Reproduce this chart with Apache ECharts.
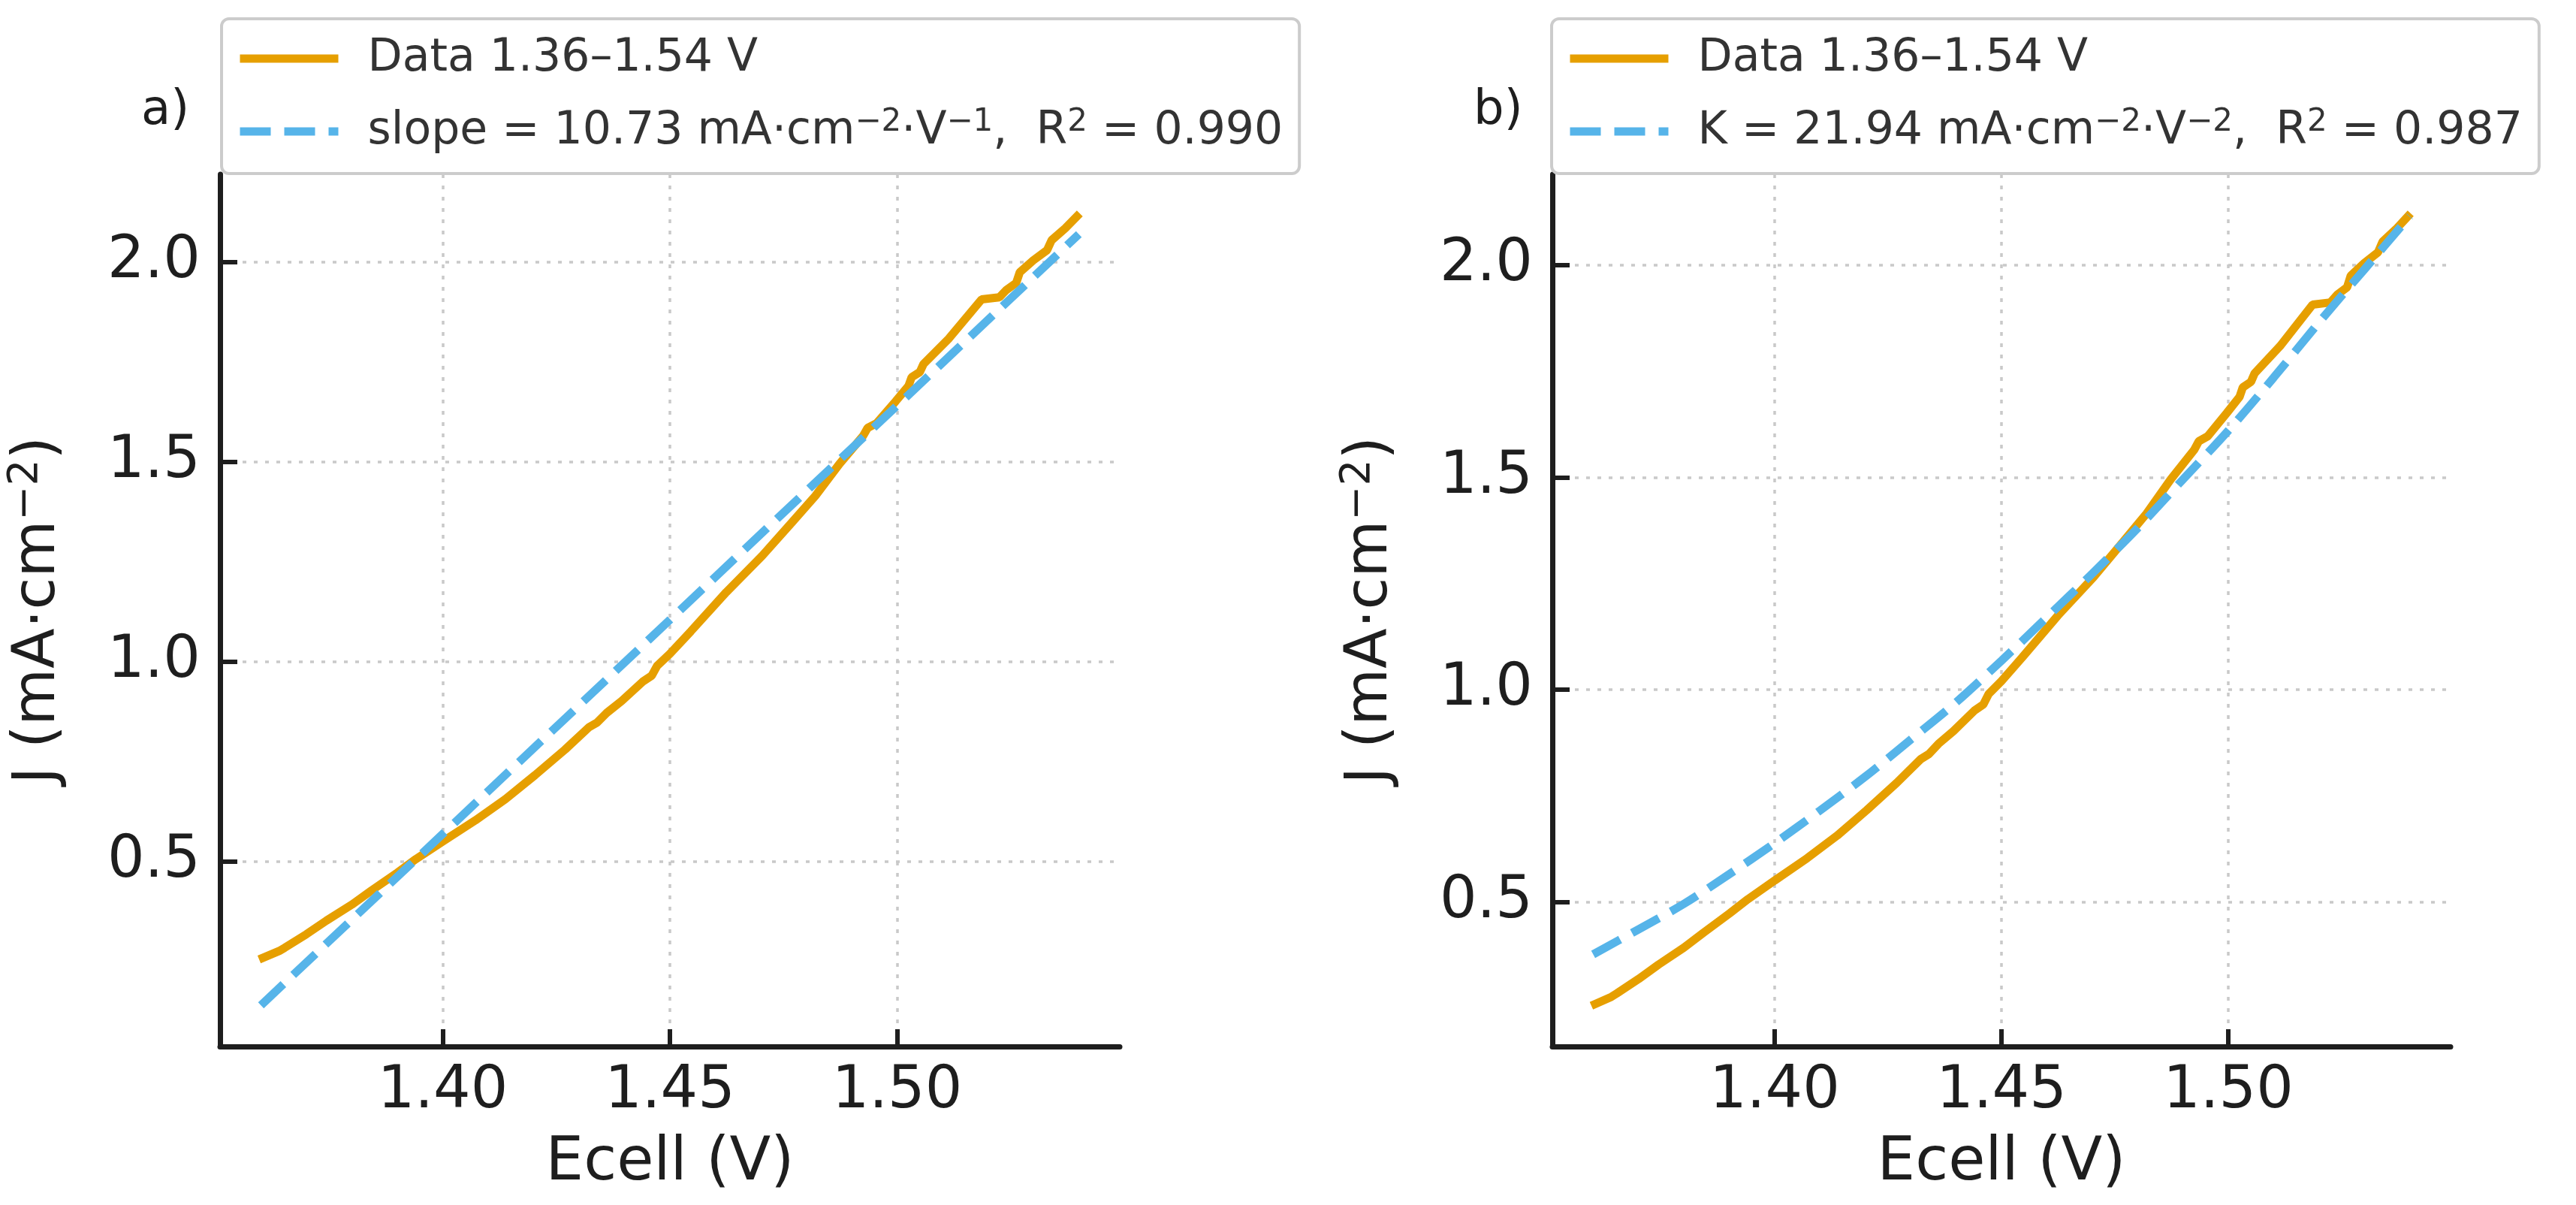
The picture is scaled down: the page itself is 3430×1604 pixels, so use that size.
<!DOCTYPE html>
<html>
<head>
<meta charset="utf-8">
<script src="https://cdn.jsdelivr.net/npm/echarts@6/dist/echarts.min.js"></script>
<style>
html,body{margin:0;padding:0;background:#ffffff;}
#chart{width:3430px;height:1604px;}
</style>
</head>
<body>
<div id="chart"></div>
<script>
// ---- data ----
const measuredE = [1.3596,1.3640,1.3652,1.3700,1.3744,1.3800,1.3843,1.3900,1.3941,1.4000,1.4072,1.4138,1.4203,1.4269,1.4322,1.4340,1.4361,1.4394,1.4440,1.4460,1.4472,1.4500,1.4546,1.4624,1.4703,1.4768,1.4820,1.4873,1.4925,1.4935,1.4955,1.4997,1.5025,1.5032,1.5050,1.5058,1.5114,1.5186,1.5225,1.5240,1.5262,1.5270,1.5300,1.5330,1.5340,1.5370,1.5402];
const measuredJ = [0.255,0.276,0.284,0.318,0.352,0.392,0.427,0.472,0.506,0.550,0.603,0.656,0.716,0.780,0.836,0.848,0.872,0.902,0.950,0.965,0.990,1.020,1.076,1.174,1.265,1.348,1.415,1.495,1.565,1.585,1.597,1.652,1.690,1.712,1.725,1.745,1.809,1.907,1.912,1.930,1.948,1.975,2.005,2.030,2.055,2.085,2.122];

const linearFitE = [1.36, 1.54];
const linearFitJ = [0.140, 2.070];

const quadFitE = [1.36,1.37,1.38,1.39,1.40,1.41,1.42,1.43,1.44,1.45,1.46,1.47,1.48,1.49,1.50,1.51,1.52,1.53,1.54];
const quadFitJ = [0.376,0.435,0.495,0.565,0.638,0.715,0.795,0.882,0.970,1.068,1.170,1.273,1.380,1.495,1.610,1.735,1.865,1.990,2.115];

const xTickValues = [1.40, 1.45, 1.50];
const yTickValues = [0.5, 1.0, 1.5, 2.0];

const dataName = 'Data 1.36\u20131.54 V';
const linearName = 'slope = 10.73 mA\u00b7cm\u207b\u00b2\u00b7V\u207b\u00b9,  R\u00b2 = 0.990';
const quadName = 'K = 21.94 mA\u00b7cm\u207b\u00b2\u00b7V\u207b\u00b2,  R\u00b2 = 0.987';
const panelLabels = ['a)', 'b)'];
const xAxisTitle = 'Ecell (V)';
const yAxisTitle = 'J (mA\u00b7cm\u207b\u00b2)';

// ---- build ----
const zip = (xs, ys) => xs.map((x, i) => [x, ys[i]]);
const FONT = 'DejaVu Sans';
const ORANGE = '#E69F00';
const BLUE = '#56B4E9';
const AXIS = '#1e1e1e';
const GRIDC = '#c9c9c9';
const LEG_TXT = '#333333';

// turn unicode superscripts into rich-text superscript tokens (like mathtext)
function toRich(text, mainKey, firstKey) {
  const parts = text.split(/(\u207b\u00b2|\u207b\u00b9|\u00b2)/);
  let out = '';
  let first = true;
  parts.forEach(p => {
    if (!p) return;
    if (p === '\u207b\u00b2') out += '{s|\u22122}';
    else if (p === '\u207b\u00b9') out += '{s|\u22121}';
    else if (p === '\u00b2') out += '{s|2}';
    else { out += '{' + (first && firstKey ? firstKey : mainKey) + '|' + p + '}'; }
    first = false;
  });
  return out;
}

function xAxisCfg(idx) {
  return {
    type: 'value', gridIndex: idx, min: 1.351, max: 1.549,
    name: xAxisTitle, nameLocation: 'middle', nameGap: 116,
    nameTextStyle: {fontFamily: FONT, fontSize: 80, color: AXIS},
    axisLine: {show: true, onZero: false, lineStyle: {color: AXIS, width: 7}},
    axisTick: {show: true, inside: true, length: 23, lineStyle: {color: AXIS, width: 6}, customValues: xTickValues},
    axisLabel: {show: true, margin: 22, fontFamily: FONT, fontSize: 78, color: AXIS,
      customValues: xTickValues, formatter: v => Number(v).toFixed(2)},
    splitLine: {show: true, lineStyle: {color: GRIDC, width: 3.5, type: [5, 10]}}
  };
}
function yAxisCfg(idx, min, max) {
  return {
    type: 'value', gridIndex: idx, min: min, max: max,
    name: toRich(yAxisTitle, 't'), nameLocation: 'middle', nameGap: 196, nameRotate: 90,
    nameTextStyle: {fontFamily: FONT, fontSize: 78, color: AXIS,
      rich: {
        t: {fontFamily: FONT, fontSize: 78, color: AXIS, lineHeight: 90},
        s: {fontFamily: FONT, fontSize: 55, color: AXIS, lineHeight: 55, verticalAlign: 'top'}
      }},
    axisLine: {show: true, onZero: false, lineStyle: {color: AXIS, width: 7}},
    axisTick: {show: true, inside: true, length: 23, lineStyle: {color: AXIS, width: 6}, customValues: yTickValues},
    axisLabel: {show: true, margin: 26, fontFamily: FONT, fontSize: 78, color: AXIS,
      customValues: yTickValues, formatter: v => Number(v).toFixed(1)},
    splitLine: {show: true, lineStyle: {color: GRIDC, width: 3.5, type: [5, 10]}}
  };
}
function legendCfg(left, names) {
  return {
    orient: 'vertical', left: left, top: 25,
    data: names,
    itemWidth: 131, itemHeight: 24, itemGap: 34,
    padding: [23, 22, 26, 19],
    backgroundColor: '#ffffff', borderColor: '#cccccc', borderWidth: 4, borderRadius: 10,
    formatter: name => toRich(name, 't', 'f'),
    textStyle: {fontFamily: FONT, fontSize: 60, color: LEG_TXT,
      rich: {
        f: {fontFamily: FONT, fontSize: 60, color: LEG_TXT, lineHeight: 66, padding: [0, 0, 0, 34]},
        t: {fontFamily: FONT, fontSize: 60, color: LEG_TXT, lineHeight: 66},
        s: {fontFamily: FONT, fontSize: 42, color: LEG_TXT, lineHeight: 42, verticalAlign: 'top'}
      }},
    itemStyle: {color: 'rgba(0,0,0,0)', borderColor: 'rgba(0,0,0,0)', borderWidth: 0, opacity: 0},
    lineStyle: {width: 'inherit'},
    selectedMode: false
  };
}

const chart = echarts.init(document.getElementById('chart'), null, {renderer: 'canvas', devicePixelRatio: 1});
chart.setOption({
  animation: false,
  backgroundColor: '#ffffff',
  title: [
    {text: panelLabels[0], left: 188, top: 116, padding: 0, textStyle: {fontFamily: FONT, fontSize: 64, fontWeight: 'normal', color: AXIS}},
    {text: panelLabels[1], left: 1962, top: 116, padding: 0, textStyle: {fontFamily: FONT, fontSize: 64, fontWeight: 'normal', color: AXIS}}
  ],
  legend: [legendCfg(295, [dataName, linearName]), legendCfg(2066, [dataName, quadName])],
  grid: [
    {left: 293, top: 232, width: 1198, height: 1161, containLabel: false},
    {left: 2067, top: 232, width: 1196, height: 1161, containLabel: false}
  ],
  xAxis: [xAxisCfg(0), xAxisCfg(1)],
  yAxis: [yAxisCfg(0, 0.037, 2.220), yAxisCfg(1, 0.159, 2.214)],
  series: [
    {name: dataName, type: 'line', xAxisIndex: 0, yAxisIndex: 0, data: zip(measuredE, measuredJ),
      showSymbol: false, symbol: 'none', lineStyle: {color: ORANGE, width: 11}, itemStyle: {color: ORANGE}, z: 3},
    {name: linearName, type: 'line', xAxisIndex: 0, yAxisIndex: 0, data: zip(linearFitE, linearFitJ),
      showSymbol: false, symbol: 'none', lineStyle: {color: BLUE, width: 11, type: [41, 18]}, itemStyle: {color: BLUE}, z: 4},
    {name: dataName, type: 'line', xAxisIndex: 1, yAxisIndex: 1, data: zip(measuredE, measuredJ),
      showSymbol: false, symbol: 'none', lineStyle: {color: ORANGE, width: 11}, itemStyle: {color: ORANGE}, z: 3},
    {name: quadName, type: 'line', xAxisIndex: 1, yAxisIndex: 1, data: zip(quadFitE, quadFitJ), smooth: 0.3,
      showSymbol: false, symbol: 'none', lineStyle: {color: BLUE, width: 11, type: [41, 18]}, itemStyle: {color: BLUE}, z: 4}
  ]
});
</script>
</body>
</html>
